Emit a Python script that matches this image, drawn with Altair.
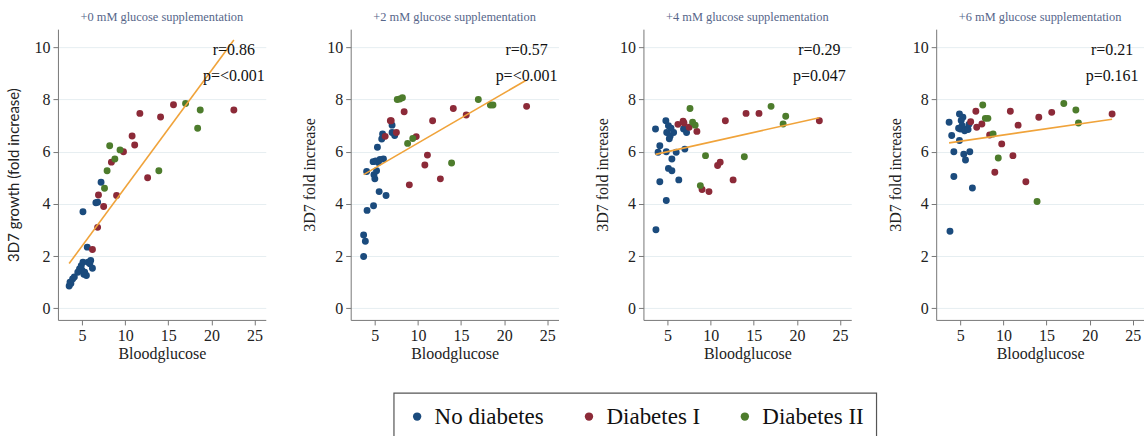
import altair as alt
import pandas as pd

# Panels: glucose added to the culture medium
PANELS = ["+0 mM glucose supplementation", "+2 mM glucose supplementation",
          "+4 mM glucose supplementation", "+6 mM glucose supplementation"]
Y_TITLES = ["3D7 growth (fold increase)", "3D7 fold increase",
            "3D7 fold increase", "3D7 fold increase"]
R_LABELS = ["r=0.86", "r=0.57", "r=0.29", "r=0.21"]
P_LABELS = ["p=<0.001", "p=<0.001", "p=0.047", "p=0.161"]

GROUPS = ["No diabetes", "Diabetes I", "Diabetes II"]
COLORS = ["#1b4b7d", "#8c2a38", "#4d7c2c"]

# Blood glucose (mmol/L) of the diabetic donors
GLUCOSE_T1 = [6.2, 6.8, 6.9, 7.5, 8.4, 9.0, 9.8, 10.8, 11.1, 11.7, 12.6, 14.1, 15.6, 22.6]
GLUCOSE_T2 = [7.6, 7.9, 8.2, 8.8, 9.4, 13.9, 17.0, 18.4, 18.7]

# Fold increase of 3D7 parasites, one list per panel
FOLD_T1 = [
    [2.25, 3.1, 4.34, 3.9, 5.6, 4.32, 6.0, 6.6, 6.26, 7.47, 5.0, 7.33, 7.8, 7.6],
    [6.59, 7.19, 7.19, 6.74, 7.53, 4.73, 6.58, 5.49, 5.87, 7.19, 4.96, 7.66, 7.41, 7.74],
    [7.05, 7.17, 7.1, 6.94, 6.78, 4.55, 4.47, 5.47, 5.6, 7.19, 4.92, 7.47, 7.47, 7.19],
    [7.15, 7.55, 6.94, 7.06, 6.64, 5.21, 6.3, 7.55, 5.85, 7.02, 4.85, 7.32, 7.51, 7.45],
]
FOLD_T2 = [
    [4.6, 5.27, 6.23, 5.72, 6.07, 5.27, 7.85, 6.9, 7.6],
    [8.0, 8.02, 8.07, 6.32, 6.51, 5.57, 8.0, 7.79, 7.79],
    [7.66, 7.13, 7.02, 4.7, 5.85, 5.81, 7.74, 7.06, 7.36],
    [7.79, 7.28, 7.28, 6.68, 5.76, 4.09, 7.85, 7.6, 7.1],
]

# Non-diabetic donors (glucose, fold increase) per panel
GLUCOSE_ND = [
    [3.5, 3.6, 3.7, 3.9, 4.1, 4.5, 4.7, 4.9, 5.0, 5.1, 5.2, 5.3, 5.5, 5.6, 5.7, 5.9, 6.0, 6.2, 6.6, 6.8, 7.2, 5.1],
    [3.7, 3.9, 3.7, 4.1, 4.05, 4.85, 4.8, 5.0, 4.9, 5.3, 5.4, 5.2, 5.5, 5.8, 5.9, 6.0, 6.3, 7.0, 7.0, 7.3, 5.1, 5.6],
    [3.65, 3.6, 4.1, 3.9, 4.1, 4.85, 4.8, 4.9, 5.1, 5.3, 4.85, 5.1, 5.5, 5.5, 5.7, 6.0, 6.3, 6.85, 7.0, 7.2, 5.2, 5.4],
    [3.8, 3.7, 4.0, 4.25, 4.25, 4.9, 4.9, 5.0, 5.3, 5.4, 5.6, 5.75, 6.1, 6.4, 5.1, 5.2, 5.5, 4.8, 5.9, 6.0],
]
FOLD_ND = [
    [0.85, 1.0, 0.95, 1.12, 1.2, 1.38, 1.5, 1.63, 1.45, 1.76, 1.3, 1.38, 1.25, 2.34, 1.76, 1.7, 1.83, 1.53, 4.04, 4.06, 4.83, 3.7],
    [2.81, 2.57, 1.98, 3.75, 5.24, 3.93, 5.62, 4.96, 5.12, 6.17, 5.59, 5.27, 4.47, 6.49, 6.68, 5.72, 4.32, 6.74, 7.02, 6.62, 5.65, 5.7],
    [3.01, 6.87, 6.23, 5.98, 4.85, 4.13, 7.19, 6.74, 7.0, 6.6, 6.0, 5.36, 5.27, 5.72, 6.74, 5.98, 4.92, 6.87, 6.1, 6.74, 6.5, 6.9],
    [2.95, 7.13, 6.62, 6.0, 5.05, 7.45, 6.43, 6.87, 7.32, 5.9, 5.68, 6.87, 6.0, 4.61, 7.2, 7.0, 6.8, 6.9, 6.85, 7.05],
]

rows = []
for i in range(4):
    for g, f in zip(GLUCOSE_ND[i], FOLD_ND[i]):
        rows.append({"panel": i, "group": GROUPS[0], "glucose": g, "fold": f})
    for g, f in zip(GLUCOSE_T1, FOLD_T1[i]):
        rows.append({"panel": i, "group": GROUPS[1], "glucose": g, "fold": f})
    for g, f in zip(GLUCOSE_T2, FOLD_T2[i]):
        rows.append({"panel": i, "group": GROUPS[2], "glucose": g, "fold": f})
df = pd.DataFrame(rows)

stats = pd.DataFrame({"panel": list(range(4)), "r": R_LABELS, "p": P_LABELS})

SERIF = "Liberation Serif"
x_scale = alt.Scale(domain=[2.2, 26.3], nice=False, zero=False)
y_scale = alt.Scale(domain=[-0.45, 10.7], nice=False, zero=False)


def panel(i):
    base = alt.Chart(df).transform_filter(alt.datum.panel == i)
    x = alt.X("glucose:Q", scale=x_scale, title="Bloodglucose",
              axis=alt.Axis(values=[5, 10, 15, 20, 25], grid=False))
    y_axis = alt.Axis(values=[0, 2, 4, 6, 8, 10], grid=True,
                      titleFont="Lato" if i == 0 else SERIF,
                      titleFontSize=15 if i == 0 else 16,
                      titlePadding=12 if i == 0 else 9)
    y = alt.Y("fold:Q", scale=y_scale, title=Y_TITLES[i], axis=y_axis)

    points = base.mark_circle(size=48, opacity=1).encode(
        x=x, y=y,
        color=alt.Color("group:N", scale=alt.Scale(domain=GROUPS, range=COLORS),
                        legend=alt.Legend(title=None)),
    )
    fit = base.transform_regression("glucose", "fold").mark_line(
        color="#f0a33a", strokeWidth=1.6
    ).encode(x="glucose:Q", y="fold:Q")

    s = alt.Chart(stats).transform_filter(alt.datum.panel == i)
    r_text = s.mark_text(font=SERIF, fontSize=16, align="center", baseline="middle",
                         color="#111").encode(x=alt.datum(22.6), y=alt.datum(9.9), text="r:N")
    p_text = s.mark_text(font=SERIF, fontSize=16, align="center", baseline="middle",
                         color="#111").encode(x=alt.datum(22.6), y=alt.datum(8.9), text="p:N")

    return alt.layer(points, fit, r_text, p_text).properties(
        width=208, height=291,
        title=alt.TitleParams(PANELS[i], font=SERIF, fontSize=12.4,
                              fontWeight="normal", color="#56668a", offset=6),
    )


chart = alt.hconcat(*[panel(i) for i in range(4)], spacing=85, bounds="flush").properties(
    padding={"left": 7, "top": 10, "right": 0, "bottom": 0}
).configure_view(stroke=None).configure_axis(
    labelFont=SERIF, labelFontSize=16, labelColor="#222",
    titleFont=SERIF, titleFontSize=16, titleColor="#222", titleFontWeight="normal",
    domainColor="#777", tickColor="#777", tickSize=5, labelPadding=3,
    gridColor="#e6eef1", gridWidth=1,
).configure_axisX(titlePadding=2).configure_legend(
    orient="none", legendX=336, legendY=364, direction="horizontal", columns=3,
    labelFont=SERIF, labelFontSize=23, labelColor="#111",
    symbolType="circle", symbolSize=70, symbolStrokeWidth=0,
    labelOffset=6, columnPadding=33, padding=12,
    strokeColor="#555", strokeWidth=1.2, fillColor="white", labelLimit=300,
)

chart.save("out.html", embed_options={"renderer": "svg", "actions": False})
